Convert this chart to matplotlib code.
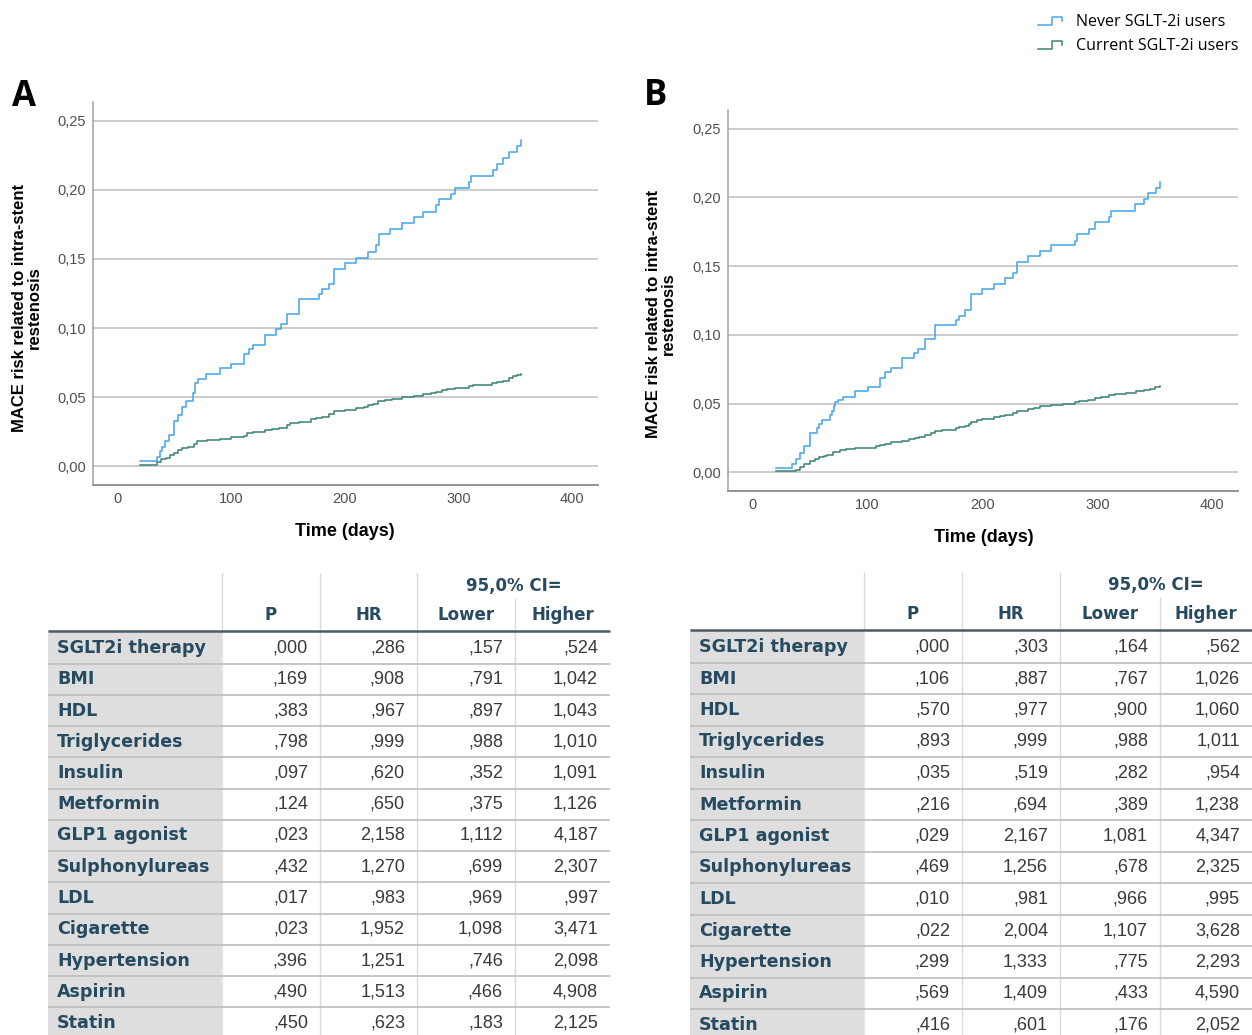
import numpy as np
import matplotlib
matplotlib.use('Agg')
import matplotlib.pyplot as plt
from matplotlib.legend_handler import HandlerBase
from matplotlib.lines import Line2D
from matplotlib.patches import Rectangle

# ---- Kaplan-Meier style cumulative risk, panel A
a_never_days = [20, 35, 37, 39, 42, 45, 50, 53, 57, 60, 66, 68, 71, 78, 90, 100, 111, 116, 119, 130,
                139, 144, 149, 160, 177, 180, 186, 190, 200, 210, 220, 227, 230, 240, 250, 261, 269, 280,
                283, 293, 297, 309, 311, 330, 334, 339, 344, 351, 355]
a_never_risk = [0.0036, 0.007, 0.011, 0.014, 0.018, 0.023, 0.033, 0.037, 0.043, 0.047, 0.053, 0.060, 0.063,
                0.067, 0.071, 0.074, 0.081, 0.085, 0.088, 0.095, 0.099, 0.103, 0.110, 0.121, 0.125, 0.128,
                0.132, 0.143, 0.147, 0.151, 0.155, 0.160, 0.168, 0.172, 0.176, 0.180, 0.184, 0.189, 0.193,
                0.197, 0.201, 0.206, 0.210, 0.214, 0.219, 0.223, 0.227, 0.232, 0.236]
a_curr_days = [20, 35, 38, 43, 46, 50, 53, 57, 62, 67, 70, 79, 90, 100, 111, 114, 119, 130, 136, 142,
               149, 152, 160, 170, 175, 180, 186, 190, 200, 210, 217, 220, 225, 229, 235, 241, 250, 261,
               269, 276, 280, 285, 290, 297, 309, 313, 329, 334, 339, 344, 348, 351, 355]
a_curr_risk = [0.0012, 0.003, 0.005, 0.006, 0.008, 0.010, 0.012, 0.013, 0.014, 0.016, 0.018, 0.019, 0.020,
               0.021, 0.022, 0.024, 0.025, 0.026, 0.027, 0.028, 0.030, 0.031, 0.032, 0.034, 0.035, 0.036,
               0.038, 0.040, 0.041, 0.042, 0.043, 0.044, 0.045, 0.047, 0.048, 0.049, 0.050, 0.051, 0.052,
               0.053, 0.054, 0.055, 0.056, 0.057, 0.058, 0.059, 0.060, 0.061, 0.062, 0.064, 0.065, 0.066,
               0.067]

# ---- panel B
b_never_days = [20, 34, 38, 41, 45, 50, 56, 58, 60, 67, 69, 71, 72, 74, 79, 89, 100, 111, 115, 120,
                130, 140, 144, 150, 159, 177, 180, 185, 190, 200, 210, 220, 227, 230, 240, 250, 260, 281,
                282, 293, 298, 310, 312, 333, 341, 344, 351, 355]
b_never_risk = [0.003, 0.006, 0.0097, 0.014, 0.019, 0.029, 0.032, 0.035, 0.038, 0.042, 0.045, 0.048, 0.051,
                0.053, 0.055, 0.059, 0.062, 0.069, 0.073, 0.076, 0.083, 0.087, 0.090, 0.097, 0.107, 0.111,
                0.114, 0.118, 0.130, 0.133, 0.137, 0.141, 0.145, 0.153, 0.157, 0.161, 0.165, 0.168, 0.173,
                0.177, 0.182, 0.186, 0.190, 0.195, 0.199, 0.203, 0.207, 0.211]
b_curr_days = [20, 38, 41, 45, 50, 54, 58, 62, 65, 70, 76, 81, 89, 100, 107, 111, 115, 120, 130, 136,
               141, 145, 150, 155, 159, 165, 177, 180, 185, 188, 190, 195, 200, 210, 215, 220, 227, 230,
               240, 245, 250, 260, 270, 281, 284, 292, 298, 303, 310, 315, 325, 334, 341, 346, 350, 355]
b_curr_risk = [0.001, 0.002, 0.004, 0.006, 0.008, 0.010, 0.011, 0.012, 0.013, 0.015, 0.016, 0.017, 0.0175,
               0.018, 0.019, 0.020, 0.021, 0.022, 0.023, 0.024, 0.025, 0.026, 0.027, 0.029, 0.030, 0.031,
               0.032, 0.033, 0.034, 0.035, 0.037, 0.038, 0.039, 0.040, 0.041, 0.042, 0.043, 0.045, 0.046,
               0.047, 0.048, 0.049, 0.050, 0.051, 0.052, 0.053, 0.054, 0.055, 0.056, 0.057, 0.058, 0.059,
               0.060, 0.061, 0.062, 0.063]

# ---- Cox regression tables
row_names = ['SGLT2i therapy', 'BMI', 'HDL', 'Triglycerides', 'Insulin', 'Metformin', 'GLP1 agonist',
             'Sulphonylureas', 'LDL', 'Cigarette', 'Hypertension', 'Aspirin', 'Statin']
col_names = ['P', 'HR', 'Lower', 'Higher']

a_p = [0.000, 0.169, 0.383, 0.798, 0.097, 0.124, 0.023, 0.432, 0.017, 0.023, 0.396, 0.490, 0.450]
a_hr = [0.286, 0.908, 0.967, 0.999, 0.620, 0.650, 2.158, 1.270, 0.983, 1.952, 1.251, 1.513, 0.623]
a_lo = [0.157, 0.791, 0.897, 0.988, 0.352, 0.375, 1.112, 0.699, 0.969, 1.098, 0.746, 0.466, 0.183]
a_hi = [0.524, 1.042, 1.043, 1.010, 1.091, 1.126, 4.187, 2.307, 0.997, 3.471, 2.098, 4.908, 2.125]

b_p = [0.000, 0.106, 0.570, 0.893, 0.035, 0.216, 0.029, 0.469, 0.010, 0.022, 0.299, 0.569, 0.416]
b_hr = [0.303, 0.887, 0.977, 0.999, 0.519, 0.694, 2.167, 1.256, 0.981, 2.004, 1.333, 1.409, 0.601]
b_lo = [0.164, 0.767, 0.900, 0.988, 0.282, 0.389, 1.081, 0.678, 0.966, 1.107, 0.775, 0.433, 0.176]
b_hi = [0.562, 1.026, 1.060, 1.011, 0.954, 1.238, 4.347, 2.325, 0.995, 3.628, 2.293, 4.590, 2.052]

BLUE = '#4aa6e6'
TEAL = '#3f8478'
HEAD = '#264a60'
SANS = 'Liberation Sans'
W, H = 1252, 1035

fig = plt.figure(figsize=(W / 100, H / 100), dpi=100)
fig.patch.set_facecolor('white')

# overlay in pixel units for the tables and panel letters
ov = fig.add_axes([0, 0, 1, 1])
ov.set_xlim(0, W)
ov.set_ylim(H, 0)
ov.axis('off')


def spss(v):
    s = f'{v:.3f}'.replace('.', ',')
    return s[1:] if s.startswith('0') else s


def km_panel(box, never, curr, letter, letter_xy, ylab_xy, xlab_xy):
    l, t, r, b = box
    ax = fig.add_axes([l / W, 1 - b / H, (r - l) / W, (b - t) / H])
    ax.step(never[0], never[1], where='post', color=BLUE, lw=1.15, label='Never SGLT-2i users')
    ax.step(curr[0], curr[1], where='post', color=TEAL, lw=1.15, label='Current SGLT-2i users')
    ax.set_xlim(-21.5, 422.5)
    ax.set_ylim(-0.0135, 0.2635)
    yt = np.arange(0, 0.2501, 0.05)
    ax.set_yticks(yt)
    ax.set_yticklabels([f'{v:.2f}'.replace('.', ',') for v in yt])
    ax.set_xticks([0, 100, 200, 300, 400])
    ax.grid(axis='y', color='#c4c4c4', lw=1.2)
    ax.set_axisbelow(True)
    for s in ['top', 'right']:
        ax.spines[s].set_visible(False)
    ax.spines['left'].set_color('#a0a0a0')
    ax.spines['bottom'].set_color('#8a8a8a')
    ax.spines['left'].set_linewidth(1.1)
    ax.spines['bottom'].set_linewidth(1.3)
    ax.tick_params(length=0, labelsize=10.5, labelcolor='#505050', pad=5, labelfontfamily=SANS)
    ov.text(*letter_xy, letter, fontsize=25, fontweight='bold', family='Open Sans',
            ha='center', va='center')
    ov.text(*ylab_xy, 'MACE risk related to intra-stent\nrestenosis', rotation=90,
            fontsize=12, fontweight='bold', family=SANS,
            ha='center', va='center', linespacing=0.95)
    ov.text(*xlab_xy, 'Time (days)', fontsize=13, fontweight='bold',
            family=SANS, ha='center', va='center')
    return ax


axA = km_panel((93, 102, 598, 485), (a_never_days, a_never_risk), (a_curr_days, a_curr_risk),
               'A', (24, 97), (27, 308), (345, 531))
axB = km_panel((728, 110, 1238, 491), (b_never_days, b_never_risk), (b_curr_days, b_curr_risk),
               'B', (656, 96), (661, 314), (984, 538))


class StepHandler(HandlerBase):
    def create_artists(self, legend, orig_handle, xd, yd, width, height, fontsize, trans):
        x = np.array([0, 0.55, 0.55, 0.97, 0.97]) * width - xd
        y = np.array([0.05, 0.05, 0.8, 0.8, 0.4]) * height - yd
        ln = Line2D(x, y, color=orig_handle.get_color(), lw=1.1, transform=trans)
        return [ln]


handles, labels = axA.get_legend_handles_labels()
fig.legend(handles, labels, handler_map={h: StepHandler() for h in handles},
           loc='upper right', bbox_to_anchor=(1.0, 1.0), frameon=False,
           prop={'family': 'Open Sans', 'size': 11.5}, handlelength=1.6, handletextpad=0.8,
           labelspacing=0.5, borderaxespad=0.45)


def draw_table(cols_x, top, head_rule, row0, step, cols):
    x0, xh = cols_x[0], cols_x[1]
    ci_y, hd_y = head_rule - 45, head_rule - 16
    # row header shading
    ov.add_patch(Rectangle((x0, head_rule), xh - x0, H - head_rule, color='#dedede', lw=0, zorder=0))
    # vertical separators
    ov.vlines(cols_x[2:4], top, H, color='#dadada', lw=1, zorder=1)
    ov.vlines(cols_x[4], head_rule - 33, H, color='#dadada', lw=1, zorder=1)
    ov.vlines(xh, top, head_rule, color='#dadada', lw=1, zorder=1)
    ov.vlines(cols_x[1], head_rule, H, color='#e8e8e8', lw=1, zorder=1)
    # header
    ov.text((cols_x[3] + cols_x[5]) / 2, ci_y, '95,0% CI=', fontsize=12, fontweight='bold',
            color=HEAD, ha='center', va='center', family='DejaVu Sans')
    for j, name in enumerate(col_names):
        ov.text((cols_x[j + 1] + cols_x[j + 2]) / 2, hd_y, name, fontsize=12, fontweight='bold',
                color=HEAD, ha='center', va='center', family='DejaVu Sans')
    ov.hlines(head_rule, x0, cols_x[-1], color='#4b5a64', lw=1.8, zorder=3)
    for i, name in enumerate(row_names):
        yc = row0 + i * step
        if i < len(row_names) - 1:
            ov.hlines(yc + step / 2, x0, cols_x[-1], color='#bdbdbd', lw=1.2, zorder=2)
        ov.text(x0 + 9, yc, name, fontsize=12.6, fontweight='bold', color=HEAD,
                ha='left', va='center', family='DejaVu Sans')
        for j, col in enumerate(cols):
            ov.text(cols_x[j + 2] - 12, yc, spss(col[i]), fontsize=13, color='#3a3a3a',
                    ha='right', va='center', family=SANS)


draw_table([48, 222, 320, 417, 515, 610], 573, 631, 648, 31.25, [a_p, a_hr, a_lo, a_hi])
draw_table([690, 864, 962, 1060, 1160, 1252], 572, 630, 647, 31.5, [b_p, b_hr, b_lo, b_hi])

fig.savefig('out.png', dpi=100, facecolor='white')
